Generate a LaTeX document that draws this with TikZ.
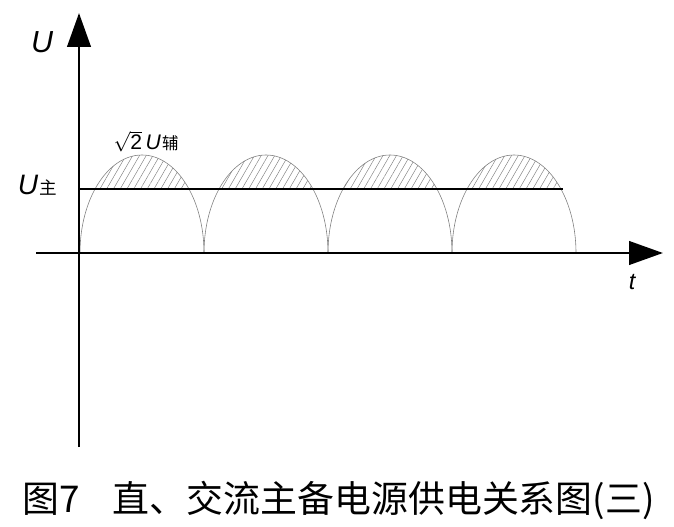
\documentclass[tikz,border=0pt]{standalone}
\usepackage{fontspec}
\setmainfont{Liberation Sans}
\newfontfamily\cjk{Noto Sans CJK SC}
\usetikzlibrary{arrows.meta, patterns.meta}

\begin{document}
\begin{tikzpicture}[x=0.03cm,y=0.03cm,
    axis/.style={line width=2.5pt,-{Triangle[length=29pt,width=20pt]}},
    hump/.style={gray,line width=0.5pt},
    hatch/.style={pattern={Lines[angle=60,distance=5pt,line width=0.4pt]},pattern color=gray}]
  \useasboundingbox (0,0) rectangle (674,526);
  \coordinate (ybot) at (79,79);
  \coordinate (ytop) at (79,513);
  \coordinate (xleft) at (36,273);
  \coordinate (xright) at (663,273);
  \coordinate (main0) at (80,337);
  \coordinate (main1) at (563,337);
  % half waves, hatched above the main level
  \foreach \s in {80,204,328,452} {
    \begin{scope}
      \clip (\s,273) arc[start angle=180,end angle=0,x radius=1.86cm,y radius=2.94cm] -- cycle;
      \fill[hatch] (\s,337) rectangle ++(124,50);
    \end{scope}
    \draw[hump] (\s,273) arc[start angle=180,end angle=0,x radius=1.86cm,y radius=2.94cm];
  }
  \draw[line width=1.6pt] (main0) -- (main1);
  \draw[axis] (xleft) -- (xright);
  \draw[axis] (ybot) -- (ytop);
  \node[anchor=base] (ulab) at (42,473) {\fontsize{26}{26}\selectfont\itshape U};
  \node[anchor=base] (tlab) at (632,236) {\fontsize{20}{20}\selectfont\itshape t};
  \node[anchor=base] (umain) at (37.5,331)
    {\fontsize{24}{24}\selectfont\itshape U\kern1pt{\cjk\upshape\fontsize{15}{15}\selectfont 主}};
  \node[anchor=base] (uaux) at (146,376)
    {\fontsize{18}{18}\selectfont$\sqrt{\mbox{2}}$\,\itshape U\kern1pt{\cjk\upshape\fontsize{14}{14}\selectfont 辅}};
  \node[anchor=base] (caption) at (338.5,14)
    {\cjk\fontsize{31.5}{31.5}\selectfont 图7\hspace{0.9em}直、交流主备电源供电关系图(三)};
\end{tikzpicture}
\end{document}
